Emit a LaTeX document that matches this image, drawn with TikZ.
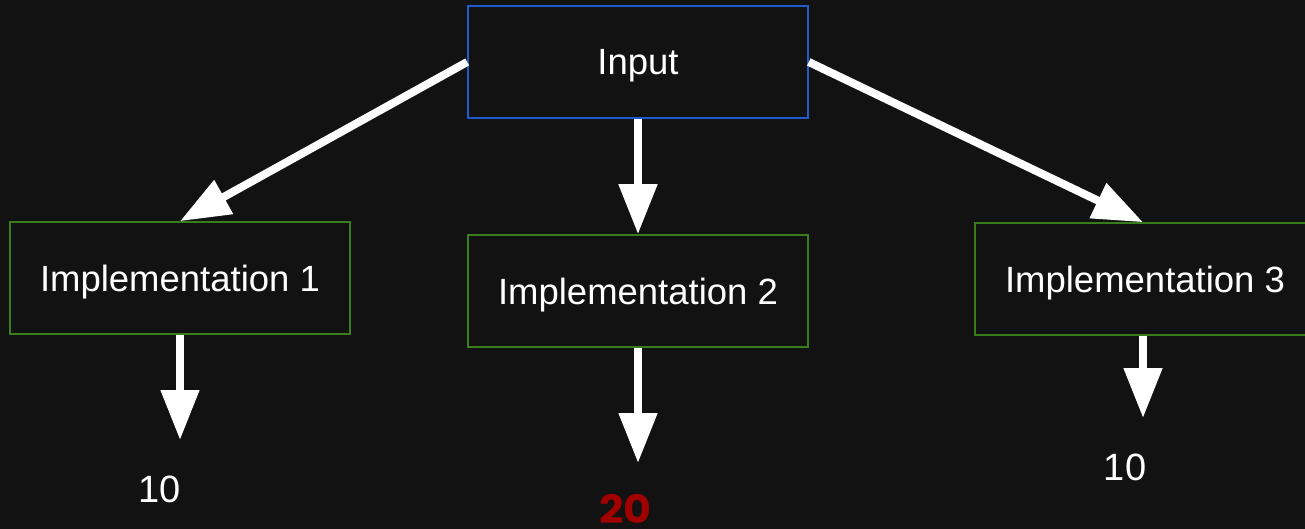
\documentclass[tikz,border=0pt]{standalone}
\usepackage{fontspec}
\setmainfont{Liberation Sans}
\newfontfamily\numfont{Poppins}
\usetikzlibrary{arrows.meta}
\definecolor{bg}{HTML}{121212}
\definecolor{inblue}{HTML}{1E5BCC}
\definecolor{impgreen}{HTML}{3A7D1C}
\definecolor{hotred}{HTML}{A00000}
\tikzset{
  box/.style={draw, line width=1.6pt, fill=bg, minimum width=340pt, minimum height=112pt,
    inner sep=0pt, text depth=0pt, text=white, font=\fontsize{36.5}{40}\selectfont},
  inbox/.style={box, draw=inblue},
  implbox/.style={box, draw=impgreen},
  flow/.style={draw=white, line width=8pt,
    -{Triangle[width=37pt 0 0, length=50pt 0 0]}},
  result/.style={anchor=base, text=white, font=\fontsize{38}{40}\selectfont, inner sep=0pt},
  hot/.style={anchor=base, text=hotred, font=\numfont\bfseries\fontsize{39}{44}\selectfont, inner sep=0pt}
}
\begin{document}
\begin{tikzpicture}[x=1pt, y=-1pt]
  \fill[bg] (0,0) rectangle (1305,529);
  \useasboundingbox (0,0) rectangle (1305,529);
  \begin{scope}
    \clip (0,0) rectangle (1305,529);
    % boxes
    \node[inbox]   (in) at (638,62)  {Input};
    \node[implbox] (i1) at (180,278) {Implementation 1};
    \node[implbox] (i2) at (638,291) {Implementation 2};
    \node[implbox] (i3) at (1145,279) {Implementation 3};
    % results, placed by their baselines
    \node[result] (r1) at (160,502) {10};
    \node[hot, xscale=1.1] (r2) at (625.5,523) {20};
    \node[result] (r3) at (1125,480) {10};
    \coordinate (t1) at (180,440);
    \coordinate (t2) at (638,463);
    \coordinate (t3) at (1143,418);
    % fan-out from the input
    \draw[flow] (in.west) -- (i1.north);
    \draw[flow] (in.south) -- (i2.north);
    \draw[flow] (in.east) -- ([xshift=-2pt]i3.north);
    % outputs
    \draw[flow] (i1.south) -- (t1);
    \draw[flow] (i2.south) -- (t2);
    \draw[flow] ([xshift=-2pt]i3.south) -- (t3);
  \end{scope}
\end{tikzpicture}
\end{document}
